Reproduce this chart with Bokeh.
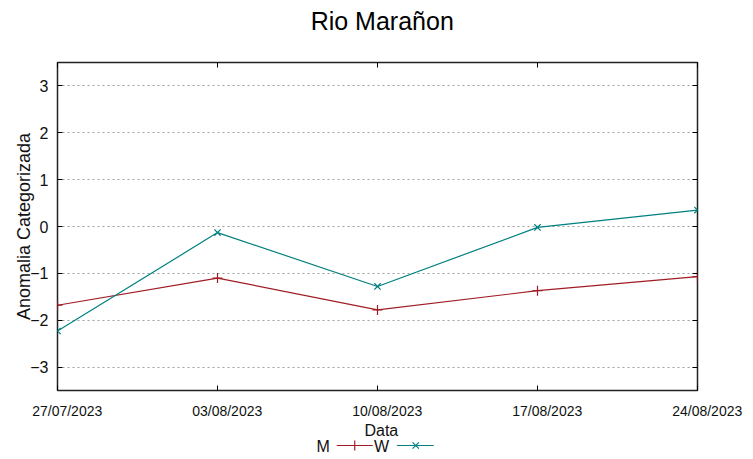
from datetime import datetime
from bokeh.plotting import figure
from bokeh.layouts import column
from bokeh.models import (Range1d, FixedTicker, LinearAxis, CustomJSTickFormatter)
from bokeh.core.properties import value
from bokeh.embed import file_html
from bokeh.resources import INLINE

# ---- data ----
dates = ["2023-07-27", "2023-08-03", "2023-08-10", "2023-08-17", "2023-08-24"]
date_labels = ["27/07/2023", "03/08/2023", "10/08/2023", "17/08/2023", "24/08/2023"]
m_values = [-1.68, -1.10, -1.78, -1.37, -1.07]
w_values = [-2.23, -0.13, -1.28, -0.02, 0.35]
y_ticks = [-3, -2, -1, 0, 1, 2, 3]
series_names = ["M", "W"]
title_text = "Rio Marañon"
x_title = "Data"
y_title = "Anomalia Categorizada"

x_ms = [datetime.strptime(d, "%Y-%m-%d").timestamp() * 1000 for d in dates]

FONT = "Liberation Sans"
M_COLOR = "#a01c24"
W_COLOR = "#008080"
TXT = "#111111"
W_PX = 745


def strip(h):
    f = figure(width=W_PX, height=h, output_backend="svg", toolbar_location=None,
               x_range=Range1d(0, W_PX), y_range=Range1d(h, 0),
               min_border=0, outline_line_color=None)
    f.axis.visible = False
    f.grid.visible = False
    return f


# ---- title strip ----
ts = strip(40)
ts.text(x=[378], y=[20], text=[title_text], text_align="center", text_baseline="middle",
        text_font=value(FONT), text_font_size="25px", text_color="black")

# ---- main plot ----
p = figure(width=W_PX, height=382, output_backend="svg", toolbar_location=None,
           x_range=Range1d(x_ms[0], x_ms[-1]), y_range=Range1d(-3.5, 3.5),
           min_border_left=57, min_border_right=48, min_border_top=22,
           min_border_bottom=32)

p.outline_line_color = "#222222"
p.outline_line_width = 1.5

p.xgrid.visible = False
p.ygrid.ticker = FixedTicker(ticks=y_ticks)
p.ygrid.grid_line_color = "#a0a0a0"
p.ygrid.grid_line_dash = "2 3"
p.ygrid.grid_line_width = 1

NBSP = "\u00a0" * 5
xa = p.xaxis[0]
xa.ticker = FixedTicker(ticks=x_ms)
xa.major_label_overrides = {t: NBSP + l for t, l in zip(x_ms, date_labels)}
xa.major_label_text_font = FONT
xa.major_label_text_font_size = "14px"
xa.major_label_text_color = TXT
xa.major_label_standoff = 12
xa.major_tick_in = 5
xa.major_tick_out = 0
xa.minor_tick_in = 0
xa.minor_tick_out = 0
xa.axis_line_color = None
xa.major_tick_line_color = "black"

ya = p.yaxis[0]
ya.ticker = FixedTicker(ticks=y_ticks)
ya.major_label_text_font = FONT
ya.major_label_text_font_size = "16px"
ya.major_label_text_color = TXT
ya.major_label_standoff = 9
ya.major_tick_in = 5
ya.major_tick_out = 0
ya.minor_tick_in = 0
ya.minor_tick_out = 0
ya.axis_line_color = None
ya.major_tick_line_color = "black"
ya.axis_label = y_title
ya.axis_label_text_font = FONT
ya.axis_label_text_font_size = "18px"
ya.axis_label_text_font_style = "normal"
ya.axis_label_text_color = TXT
ya.axis_label_standoff = -7

right = LinearAxis(ticker=FixedTicker(ticks=y_ticks), formatter=CustomJSTickFormatter(code="return ''"),
                   major_label_standoff=0, major_tick_in=5, major_tick_out=0,
                   minor_tick_in=0, minor_tick_out=0, axis_line_color=None,
                   major_tick_line_color="black")
p.add_layout(right, "right")
top = LinearAxis(ticker=FixedTicker(ticks=x_ms), formatter=CustomJSTickFormatter(code="return ''"),
                 major_label_standoff=0, major_tick_in=5, major_tick_out=0,
                 minor_tick_in=0, minor_tick_out=0, axis_line_color=None,
                 major_tick_line_color="black")
p.add_layout(top, "above")

p.line(x_ms, m_values, line_color=M_COLOR, line_width=1.2)
p.scatter(x_ms, m_values, marker="cross", size=10, line_color=M_COLOR, line_width=1.2)
p.line(x_ms, w_values, line_color=W_COLOR, line_width=1.2)
p.scatter(x_ms, w_values, marker="x", size=9, line_color=W_COLOR, line_width=1.2)

# ---- bottom strip: x title + legend (gnuplot style: label, then sample) ----
bs = strip(37)
bs.text(x=[377], y=[8], text=[x_title], text_align="center", text_baseline="middle",
        text_font=value(FONT), text_font_size="16px", text_color=TXT)
LY = 23
bs.text(x=[317, 386], y=[LY + 1, LY + 1], text=series_names, text_align="right",
        text_baseline="middle", text_font=value(FONT), text_font_size="16px",
        text_color=TXT)
bs.segment(x0=[325, 395], y0=[LY, LY], x1=[367, 438], y1=[LY, LY],
           line_color=[M_COLOR, W_COLOR], line_width=1.2)
bs.scatter(x=[346], y=[LY], marker="cross", size=10, line_color=M_COLOR, line_width=1.2)
bs.scatter(x=[417], y=[LY], marker="x", size=9, line_color=W_COLOR, line_width=1.2)

layout = column(ts, p, bs, spacing=0)
open("out.html", "w").write(file_html(layout, INLINE))
